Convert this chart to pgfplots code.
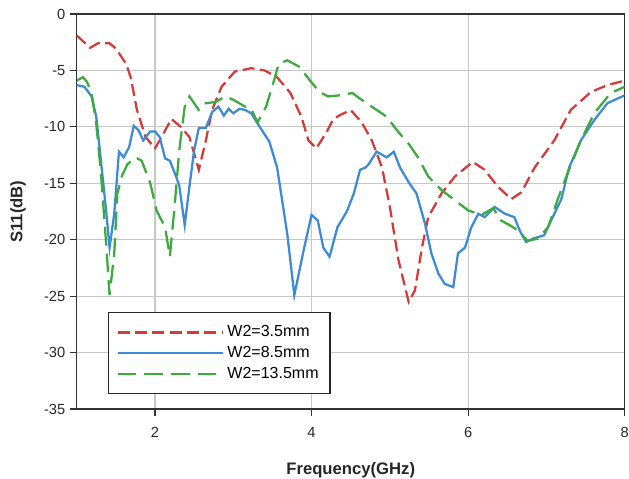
\documentclass[border=0pt]{standalone}
\usepackage{pgfplots}
\pgfplotsset{compat=1.18}
\usepackage{fontspec}
\setmainfont{Liberation Sans}

\definecolor{cred}{RGB}{212,58,58}
\definecolor{cblue}{RGB}{61,138,214}
\definecolor{cgreen}{RGB}{61,170,61}

\begin{document}
\begin{tikzpicture}
\useasboundingbox (-57.5pt,-51.75pt) rectangle (414.2pt,306.75pt);
\begin{axis}[
  at={(0,0)}, anchor=south west,
  scale only axis,
  width=411pt, height=296.25pt,
  xmin=1, xmax=8, ymin=-35, ymax=0,
  xtick={2,4,6,8}, xticklabels={2,4,6,8},
  ytick={-35,-30,-25,-20,-15,-10,-5,0},
  yticklabels={-35,-30,-25,-20,-15,-10,-5,0},
  tick pos=left, tick align=outside,
  major tick length=5pt,
  tick style={black!80, line width=0.9pt},
  ticklabel style={font=\fontsize{11}{13}\selectfont, text=black!85},
  xticklabel style={yshift=-5pt},
  grid=major,
  major grid style={black!22, line width=0.9pt},
  axis line style={black!80, line width=1pt},
  xlabel={\textbf{Frequency(GHz)}},
  ylabel={\textbf{S11(dB)}},
  label style={font=\fontsize{12.5}{14}\selectfont, text=black!85},
  xlabel style={at={(axis description cs:0.5,-0.156)}, anchor=center},
  ylabel style={at={(axis description cs:-0.107,0.5)}, anchor=center, rotate=0},
  legend cell align=left,
  legend style={
    at={(axis description cs:0.057,0.038)}, anchor=south west,
    draw=black!85, line width=0.9pt,
    inner xsep=6pt, inner ysep=7pt,
    font=\fontsize{12}{14}\selectfont,
    nodes={text height=8.5pt, text depth=2pt, inner sep=2.5pt},
  },
  legend image code/.code={
    \draw[#1, line width=1.1pt] (0pt,0pt) -- (66pt,0pt);
    \path (0pt,0pt) -- (79pt,0pt);
  },
]
\addplot[cred, line width=1.7pt, dash pattern=on 9pt off 4pt] coordinates {
(1.0,-1.9) (1.08,-2.4) (1.17,-3.0) (1.27,-2.6) (1.42,-2.6) (1.5,-3.05) (1.63,-4.4)
(1.69,-5.6) (1.77,-8.5) (1.88,-10.9) (2.0,-11.9) (2.06,-11.2) (2.21,-9.3) (2.33,-10.0)
(2.44,-10.9) (2.56,-13.8) (2.65,-11.2) (2.73,-8.5) (2.85,-6.45) (3.02,-5.1) (3.23,-4.8)
(3.4,-5.0) (3.56,-5.6) (3.73,-7.0) (3.87,-9.1) (3.96,-11.2) (4.06,-11.9) (4.19,-10.5)
(4.27,-9.4) (4.35,-9.0) (4.5,-8.5) (4.64,-9.6) (4.77,-11.2) (4.9,-13.6) (5.0,-17.1)
(5.11,-21.8) (5.24,-25.5) (5.32,-24.5) (5.41,-20.7) (5.49,-18.0) (5.66,-15.9) (5.83,-14.4)
(6.06,-13.1) (6.21,-13.8) (6.38,-15.3) (6.55,-16.4) (6.68,-15.8) (6.85,-13.6) (7.1,-11.2)
(7.31,-8.5) (7.57,-6.9) (7.78,-6.3) (8.0,-5.9)
};
\addlegendentry{W2=3.5mm}
\addplot[cblue, line width=1.7pt] coordinates {
(1.0,-6.3) (1.1,-6.45) (1.19,-7.3) (1.25,-9.1) (1.31,-13.0) (1.38,-17.7) (1.42,-20.7)
(1.48,-17.7) (1.54,-12.2) (1.6,-12.7) (1.67,-11.8) (1.73,-9.9) (1.79,-10.3) (1.85,-11.2)
(1.94,-10.4) (2.0,-10.4) (2.06,-10.9) (2.13,-12.8) (2.19,-13.0) (2.27,-14.4) (2.31,-15.2)
(2.38,-18.7) (2.44,-15.3) (2.5,-12.1) (2.56,-10.1) (2.65,-10.1) (2.73,-8.7) (2.81,-8.2)
(2.88,-9.0) (2.94,-8.4) (3.0,-8.8) (3.08,-8.4) (3.15,-8.5) (3.23,-8.8) (3.31,-9.7)
(3.46,-11.3) (3.56,-13.6) (3.69,-19.5) (3.78,-24.9) (3.9,-20.9) (4.0,-17.8) (4.08,-18.3)
(4.15,-20.7) (4.23,-21.5) (4.33,-18.9) (4.45,-17.5) (4.54,-15.9) (4.62,-13.8) (4.69,-13.6)
(4.73,-13.3) (4.83,-12.2) (4.96,-12.7) (5.05,-12.2) (5.13,-13.6) (5.24,-14.9) (5.34,-15.9)
(5.45,-18.6) (5.53,-21.2) (5.62,-23.0) (5.7,-23.9) (5.81,-24.2) (5.87,-21.2) (5.96,-20.7)
(6.04,-18.9) (6.13,-17.7) (6.21,-18.0) (6.34,-17.1) (6.47,-17.7) (6.59,-18.0) (6.66,-19.2)
(6.74,-20.2) (6.83,-19.9) (6.97,-19.6) (7.08,-18.0) (7.19,-16.4) (7.29,-13.6) (7.44,-11.2)
(7.61,-9.4) (7.78,-7.9) (8.0,-7.2)
};
\addlegendentry{W2=8.5mm}
\addplot[cgreen, line width=1.7pt, dash pattern=on 14pt off 6pt] coordinates {
(1.0,-5.9) (1.08,-5.6) (1.13,-6.0) (1.19,-7.0) (1.25,-9.7) (1.31,-14.1) (1.38,-20.7)
(1.42,-24.9) (1.48,-21.2) (1.52,-15.9) (1.58,-14.3) (1.65,-13.3) (1.75,-12.7) (1.83,-13.0)
(1.94,-15.0) (2.02,-17.4) (2.13,-18.9) (2.19,-21.5) (2.25,-17.1) (2.31,-12.1) (2.38,-8.2)
(2.44,-7.3) (2.56,-8.5) (2.65,-7.9) (2.77,-7.8) (2.9,-7.3) (3.0,-7.6) (3.15,-8.2)
(3.23,-8.4) (3.31,-9.6) (3.42,-8.2) (3.52,-5.9) (3.58,-4.4) (3.69,-4.1) (3.85,-4.7)
(3.98,-5.9) (4.1,-6.9) (4.21,-7.3) (4.37,-7.2) (4.52,-7.0) (4.64,-7.6) (4.81,-8.4)
(4.96,-9.1) (5.09,-10.3) (5.24,-11.5) (5.36,-12.7) (5.49,-14.4) (5.66,-15.6) (5.83,-16.5)
(6.0,-17.4) (6.17,-17.8) (6.32,-17.2) (6.42,-18.3) (6.53,-18.7) (6.64,-19.2) (6.76,-20.1)
(6.89,-19.9) (7.02,-18.9) (7.14,-16.5) (7.27,-14.1) (7.44,-11.2) (7.61,-8.8) (7.82,-7.0)
(8.0,-6.45)
};
\addlegendentry{W2=13.5mm}
\end{axis}
\end{tikzpicture}
\end{document}
